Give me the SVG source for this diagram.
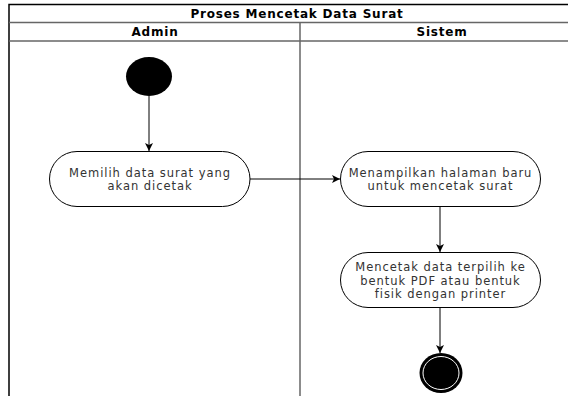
<svg xmlns="http://www.w3.org/2000/svg" width="568" height="396" viewBox="0 0 568 396">
<defs>
<style>
.lane{fill:none;stroke:#000;stroke-width:1.5}
.sep{fill:none;stroke:#666;stroke-width:1.5}
.node{fill:#fff;stroke:#000;stroke-width:1}
.t{font-family:"DejaVu Sans",Verdana,sans-serif;font-size:11.5px;letter-spacing:0.95px;fill:#333;text-anchor:middle}
.h{font-family:"DejaVu Sans",Verdana,sans-serif;font-size:12px;letter-spacing:0.8px;fill:#000;text-anchor:middle;font-weight:bold}
.edge{fill:none;stroke:#000;stroke-width:1}
</style>
<marker id="arr" markerWidth="10" markerHeight="10" refX="9" refY="5" orient="auto" markerUnits="userSpaceOnUse">
<path d="M1,1 L9,5 L1,9 L3,5 Z" fill="#000"/>
</marker>
</defs>
<rect width="568" height="396" fill="#fff"/>
<g id="pool">
<path class="lane" d="M9,400 L9,4.5 L590,4.5"/>
<line class="sep" x1="9" y1="22.5" x2="590" y2="22.5"/>
<line class="sep" x1="9" y1="41" x2="590" y2="41"/>
<line class="sep" x1="300" y1="22.5" x2="300" y2="400"/>
<text class="h" x="297" y="18">Proses Mencetak Data Surat</text>
<text class="h" x="155" y="36">Admin</text>
<text class="h" x="442" y="36">Sistem</text>
</g>
<g id="connectors">
<line class="edge" x1="149" y1="96" x2="149" y2="151" marker-end="url(#arr)"/>
<line class="edge" x1="250" y1="179" x2="340" y2="179" marker-end="url(#arr)"/>
<line class="edge" x1="440" y1="207" x2="440" y2="252" marker-end="url(#arr)"/>
<line class="edge" x1="440" y1="307" x2="440" y2="353" marker-end="url(#arr)"/>
</g>
<g id="start">
<ellipse cx="149" cy="76.5" rx="23" ry="19.5" fill="#000"/>
</g>
<g id="n1">
<rect class="node" x="49.5" y="151.5" width="200.5" height="55" rx="27.5"/>
<text class="t" x="150" y="176.6">Memilih data surat yang</text>
<text class="t" x="150" y="190">akan dicetak</text>
</g>
<g id="n2">
<rect class="node" x="340.5" y="151.5" width="200" height="55" rx="27.5"/>
<text class="t" x="440.5" y="176.6">Menampilkan halaman baru</text>
<text class="t" x="440.5" y="190">untuk mencetak surat</text>
</g>
<g id="n3">
<rect class="node" x="340.5" y="252.5" width="200" height="55" rx="27.5"/>
<text class="t" x="440.5" y="271.2">Mencetak data terpilih ke</text>
<text class="t" x="440.5" y="284.6">bentuk PDF atau bentuk</text>
<text class="t" x="440.5" y="298">fisik dengan printer</text>
</g>
<g id="end">
<ellipse cx="441" cy="373" rx="21.5" ry="20" fill="#000"/>
<ellipse cx="441" cy="373" rx="18" ry="16.5" fill="none" stroke="#fff" stroke-width="1"/>
</g>
</svg>
